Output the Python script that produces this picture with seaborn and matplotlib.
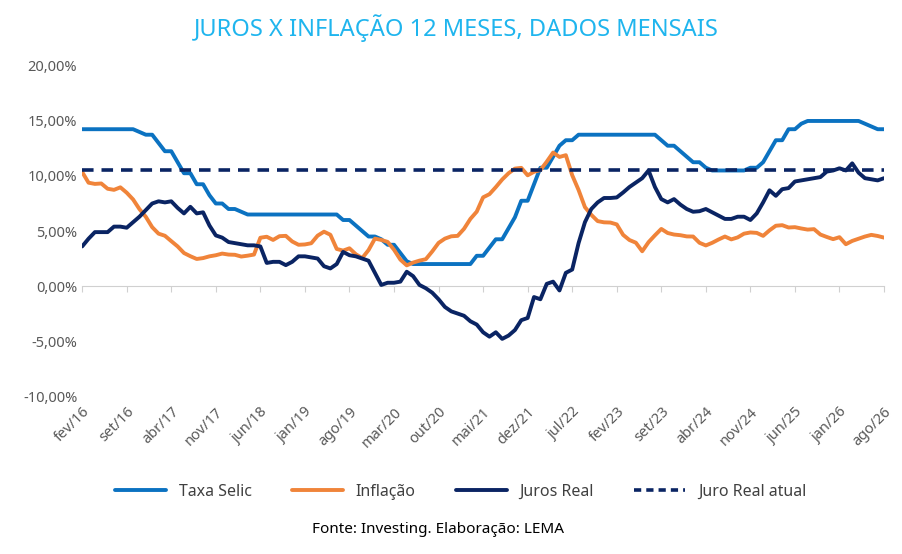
import numpy as np
import pandas as pd
import matplotlib
matplotlib.use("Agg")
import matplotlib.pyplot as plt
import seaborn as sns

# ------------------------------------------------------------------
# DADOS (mensais, fev/16 a ago/26)
# ------------------------------------------------------------------
selic = ([14.25] * 9 +
         [14.0, 13.75, 13.75, 13.0, 12.25, 12.25, 11.25, 10.25, 10.25, 9.25, 9.25,
          8.25, 7.5, 7.5, 7.0, 7.0, 6.75] +
         [6.5] * 15 +
         [6.0, 6.0, 5.5, 5.0, 4.5, 4.5, 4.25, 3.75, 3.75, 3.0, 2.25] +
         [2.0] * 10 +
         [2.75, 2.75, 3.5, 4.25, 4.25, 5.25, 6.25, 7.75, 7.75, 9.25, 10.75, 10.75,
          11.75, 12.75, 13.25, 13.25, 13.75] +
         [13.75] * 12 +
         [13.25, 12.75, 12.75, 12.25, 11.75, 11.25, 11.25, 10.75, 10.5] +
         [10.5] * 5 +
         [10.75, 10.75, 11.25, 12.25, 13.25, 13.25, 14.25, 14.25, 14.75, 15.0] +
         [15.0] * 8 +
         [14.75, 14.5, 14.25, 14.25])

inflacao = [10.36, 9.39, 9.28, 9.32, 8.84, 8.74, 8.97, 8.48, 7.87, 6.99, 6.29,
            5.35, 4.76, 4.57, 4.08, 3.60, 3.00, 2.71, 2.46, 2.54, 2.70, 2.80, 2.95,
            2.86, 2.84, 2.68, 2.76, 2.86, 4.39, 4.48, 4.19, 4.53, 4.56, 4.05, 3.75,
            3.78, 3.89, 4.58, 4.94, 4.66, 3.37, 3.22, 3.43, 2.89, 2.54, 3.27, 4.31,
            4.19, 4.01, 3.30, 2.40, 1.88, 2.13, 2.31, 2.44, 3.14, 3.92, 4.31, 4.52,
            4.56, 5.20, 6.10, 6.76, 8.06, 8.35, 8.99, 9.68, 10.25, 10.67, 10.74, 10.06,
            10.38, 10.54, 11.30, 12.13, 11.73, 11.89, 10.07, 8.73, 7.17, 6.47, 5.90, 5.79,
            5.77, 5.60, 4.65, 4.18, 3.94, 3.16, 3.99, 4.61, 5.19, 4.82, 4.68, 4.62,
            4.51, 4.50, 3.93, 3.69, 3.93, 4.23, 4.50, 4.24, 4.42, 4.76, 4.87, 4.83,
            4.56, 5.06, 5.48, 5.53, 5.32, 5.35, 5.23, 5.13, 5.17, 4.68, 4.46, 4.26,
            4.44, 3.80, 4.10, 4.30, 4.50, 4.65, 4.55, 4.40]

juros_real = [3.6, 4.3, 4.9, 4.9, 4.9, 5.4, 5.4, 5.3, 5.8, 6.3, 6.9, 7.5, 7.7, 7.6,
              7.7, 7.1, 6.6, 7.2, 6.6, 6.7, 5.5, 4.6, 4.4, 4.0, 3.9, 3.8, 3.7, 3.7,
              3.6, 2.1, 2.2, 2.2, 1.9, 2.2, 2.7, 2.7, 2.6, 2.5, 1.8, 1.6, 2.0, 3.1,
              2.8, 2.7, 2.5, 2.3, 1.2, 0.1, 0.3, 0.3, 0.4, 1.3, 0.9, 0.1, -0.2, -0.6,
              -1.2, -1.9, -2.3, -2.5, -2.7, -3.2, -3.5, -4.2, -4.6, -4.2, -4.8, -4.5,
              -4.0, -3.1, -2.9, -1.0, -1.2, 0.2, 0.4, -0.4, 1.2, 1.5, 3.9, 5.8, 7.0,
              7.6, 8.0, 8.0, 8.05, 8.5, 9.0, 9.4, 9.8, 10.5, 9.0, 7.9, 7.6, 7.9, 7.4,
              7.0, 6.75, 6.8, 7.0, 6.7, 6.4, 6.1, 6.1, 6.3, 6.3, 6.0, 6.6, 7.6, 8.7,
              8.2, 8.8, 8.9, 9.5, 9.6, 9.7, 9.8, 9.9, 10.4, 10.5, 10.7, 10.5, 11.15,
              10.3, 9.8, 9.7, 9.6, 9.8]

juro_real_atual = 10.5

meses_pt = ['jan', 'fev', 'mar', 'abr', 'mai', 'jun', 'jul', 'ago', 'set', 'out', 'nov', 'dez']
datas = pd.date_range('2016-02-01', '2026-08-01', freq='MS')
assert len(selic) == len(inflacao) == len(juros_real) == len(datas)

idx = np.arange(len(datas))
df = pd.DataFrame({'idx': idx, 'Taxa Selic': selic, 'Inflação': inflacao,
                   'Juros Real': juros_real})
df_long = df.melt(id_vars='idx', var_name='serie', value_name='valor')

cores = {'Taxa Selic': '#0B72C1', 'Inflação': '#F0843A', 'Juros Real': '#0A2463'}

# ------------------------------------------------------------------
# PLOT
# ------------------------------------------------------------------
sns.set_style('white')
plt.rcParams['font.family'] = ['Noto Sans', 'DejaVu Sans']

fig = plt.figure(figsize=(9.03, 5.54), dpi=100)
ax = fig.add_axes([0.091, 0.285, 0.888, 0.596])

sns.lineplot(data=df_long, x='idx', y='valor', hue='serie', palette=cores,
             linewidth=2.8, ax=ax, legend=False)
ax.axhline(juro_real_atual, color='#0A2463', linestyle=(0, (3.2, 2.2)),
           linewidth=2.6, label='Juro Real atual')

ax.set_xlim(idx[0], idx[-1])
ax.set_ylim(-10, 20)
ax.set_yticks(np.arange(-10, 21, 5))
ax.set_yticklabels([f'{v:,.2f}%'.replace('.', ',') for v in np.arange(-10, 21, 5)],
                   color='#595959', fontsize=10.5)

tick_pos = idx[::7]
ax.set_xticks(tick_pos)
ax.set_xticklabels([f"{meses_pt[d.month - 1]}/{d.strftime('%y')}" for d in datas[::7]],
                   rotation=45, ha='right', rotation_mode='anchor',
                   color='#595959', fontsize=10.5)
ax.tick_params(axis='x', length=0, pad=6)
ax.tick_params(axis='y', length=0)
ax.set_xlabel('')
ax.set_ylabel('')
for s in ax.spines.values():
    s.set_visible(False)

# eixo com marcas na linha do zero
sec = ax.secondary_xaxis(1 / 3)
sec.set_xticks(tick_pos)
sec.tick_params(axis='x', length=4, color='#D0D0D0', labelbottom=False, labeltop=False,
                direction='out')
sec.spines['bottom'].set_color('#D0D0D0')
sec.spines['top'].set_visible(False)

fig.suptitle('JUROS X INFLAÇÃO 12 MESES, DADOS MENSAIS', x=0.505, y=0.975,
             color='#1FB5EE', fontsize=17, fontweight='light')

handles = [plt.Line2D([], [], color=cores['Taxa Selic'], lw=2.8),
           plt.Line2D([], [], color=cores['Inflação'], lw=2.8),
           plt.Line2D([], [], color=cores['Juros Real'], lw=2.8),
           plt.Line2D([], [], color='#0A2463', lw=2.6, linestyle=(0, (2, 1.4)))]
fig.legend(handles, ['Taxa Selic', 'Inflação', 'Juros Real', 'Juro Real atual'],
           loc='center', bbox_to_anchor=(0.51, 0.112), ncol=4, frameon=False,
           fontsize=11.5, handlelength=3.2, columnspacing=2.5,
           labelcolor='#404040')

fig.text(0.485, 0.038, 'Fonte: Investing. Elaboração: LEMA', ha='center',
         fontsize=11, color='#000000')

fig.savefig('out.png', dpi=100)
